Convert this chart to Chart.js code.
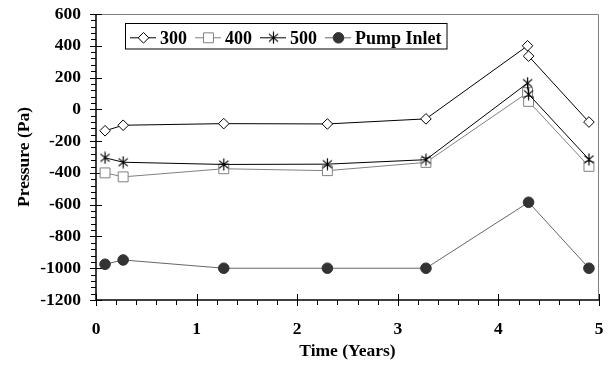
<!DOCTYPE html>
<html><head><meta charset="utf-8">
<script src="https://cdn.jsdelivr.net/npm/chart.js@4/dist/chart.umd.min.js"></script>
<style>html,body{margin:0;padding:0;background:#fff;} #wrap{width:611px;height:370px;position:relative}</style>
</head><body><div id="wrap"><canvas id="c" width="611" height="370"></canvas></div>
<script>
// ---- data ----
const seriesNames = ['300', '400', '500', 'Pump Inlet'];
const timeRuns = [0.09, 0.27, 1.27, 2.30, 3.28, 4.29, 4.30, 4.90];
const timePump = [0.09, 0.27, 1.27, 2.30, 3.28, 4.30, 4.90];
const p300 = [-135, -100, -90, -92, -60, 400, 335, -80];
const p400 = [-400, -425, -374, -386, -334, 105, 50, -359];
const p500 = [-305, -333, -347, -345, -317, 165, 95, -315];
const pPump = [-975, -948, -1000, -1000, -1000, -585, -1000];
const xTickLabels = ['0', '1', '2', '3', '4', '5'];
const yTickLabels = ['600', '400', '200', '0', '-200', '-400', '-600', '-800', '-1000', '-1200'];
const xTitle = 'Time (Years)';
const yTitle = 'Pressure (Pa)';

const FONT = "'Liberation Serif', 'Times New Roman', serif";

function makeAsterisk(size, color) {
  const c = document.createElement('canvas');
  c.width = size; c.height = size;
  const g = c.getContext('2d');
  g.strokeStyle = color; g.lineWidth = 1.2;
  const m = size / 2, r = size / 2 - 0.5;
  const dx = r * Math.cos(Math.PI * 40 / 180), dy = r * Math.sin(Math.PI * 40 / 180);
  g.beginPath();
  g.moveTo(m, m - r); g.lineTo(m, m + r);
  g.moveTo(m - dx, m - dy); g.lineTo(m + dx, m + dy);
  g.moveTo(m - dx, m + dy); g.lineTo(m + dx, m - dy);
  g.stroke();
  return c;
}
const asterisk = makeAsterisk(13, '#000');

const pts = (xs, ys) => xs.map((x, i) => ({x: x, y: ys[i]}));

const datasets = [
  {label: seriesNames[0], data: pts(timeRuns, p300), borderColor: '#000', backgroundColor: '#fff',
   pointStyle: 'rectRot', pointRadius: 5.3, pointBorderWidth: 1, borderWidth: 1, order: 1},
  {label: seriesNames[1], data: pts(timeRuns, p400), borderColor: '#808080', backgroundColor: '#fff',
   pointStyle: 'rect', pointRadius: 7, pointBorderWidth: 1, borderWidth: 1, order: 2},
  {label: seriesNames[2], data: pts(timeRuns, p500), borderColor: '#000', backgroundColor: '#000',
   pointStyle: asterisk, pointRadius: 6, pointBorderWidth: 1, borderWidth: 1, order: 0},
  {label: seriesNames[3], data: pts(timePump, pPump), borderColor: '#666', backgroundColor: '#333',
   pointBorderColor: '#333', pointStyle: 'circle', pointRadius: 5.3, pointBorderWidth: 1, borderWidth: 1, order: 3}
];

function drawMarker(ctx, ds, x, y) {
  const st = ds.pointStyle, r = ds.pointRadius;
  ctx.save();
  ctx.lineWidth = ds.pointBorderWidth || 1;
  ctx.strokeStyle = ds.pointBorderColor || ds.borderColor;
  ctx.fillStyle = ds.backgroundColor;
  if (typeof st === 'object') {
    ctx.drawImage(st, x - st.width / 2, y - st.height / 2);
  } else {
    ctx.beginPath();
    if (st === 'rectRot') {
      ctx.moveTo(x - r, y); ctx.lineTo(x, y - r); ctx.lineTo(x + r, y); ctx.lineTo(x, y + r); ctx.closePath();
    } else if (st === 'rect') {
      const s = r * Math.SQRT1_2;
      ctx.rect(x - s, y - s, 2 * s, 2 * s);
    } else {
      ctx.arc(x, y, r, 0, Math.PI * 2);
    }
    ctx.fill(); ctx.stroke();
  }
  ctx.restore();
}

const framePlugin = {
  id: 'frame',
  beforeDatasetsDraw(chart) {
    const {ctx, chartArea: a, scales: {x, y}} = chart;
    ctx.save();
    ctx.strokeStyle = '#808080'; ctx.lineWidth = 1;
    ctx.beginPath();
    ctx.moveTo(a.left, a.top + 0.5); ctx.lineTo(a.right - 0.5, a.top + 0.5); ctx.lineTo(a.right - 0.5, a.bottom);
    ctx.stroke();
    ctx.strokeStyle = '#000'; ctx.lineWidth = 1;
    const yv = y.ticks.map(t => t.value).sort((p, q) => p - q);
    for (let i = 0; i < yv.length; i++) {
      const py = Math.round(y.getPixelForValue(yv[i])) + 0.5;
      ctx.beginPath(); ctx.moveTo(a.left - 6, py); ctx.lineTo(a.left + 6, py); ctx.stroke();
      if (i < yv.length - 1) {
        const step = (yv[i + 1] - yv[i]) / 5;
        for (let k = 1; k < 5; k++) {
          const my = Math.round(y.getPixelForValue(yv[i] + k * step)) + 0.5;
          ctx.beginPath(); ctx.moveTo(a.left - 5, my); ctx.lineTo(a.left, my); ctx.stroke();
        }
      }
    }
    const xv = x.ticks.map(t => t.value).sort((p, q) => p - q);
    for (let i = 0; i < xv.length; i++) {
      const px = Math.round(x.getPixelForValue(xv[i])) + 0.5;
      ctx.beginPath(); ctx.moveTo(px, a.bottom - 6); ctx.lineTo(px, a.bottom + 6); ctx.stroke();
      if (i < xv.length - 1) {
        const step = (xv[i + 1] - xv[i]) / 5;
        for (let k = 1; k < 5; k++) {
          const mx = Math.round(x.getPixelForValue(xv[i] + k * step)) + 0.5;
          ctx.beginPath(); ctx.moveTo(mx, a.bottom); ctx.lineTo(mx, a.bottom + 5); ctx.stroke();
        }
      }
    }
    ctx.lineWidth = 1.5;
    ctx.beginPath();
    ctx.moveTo(a.left, a.top); ctx.lineTo(a.left, a.bottom); ctx.lineTo(a.right, a.bottom);
    ctx.stroke();
    ctx.restore();
  }
};

const legendPlugin = {
  id: 'legendBox',
  afterDraw(chart) {
    const {ctx, chartArea: a} = chart;
    const x0 = a.left + 29, y0 = 23, h = 25.5;
    const cy = y0 + 14.3;
    ctx.save();
    ctx.font = 'bold 18px ' + FONT;
    ctx.textBaseline = 'alphabetic';
    ctx.textAlign = 'left';
    let x = x0 + 5;
    chart.data.datasets.forEach(ds => {
      ctx.strokeStyle = ds.borderColor; ctx.lineWidth = 1;
      ctx.beginPath(); ctx.moveTo(x, cy + 0.5); ctx.lineTo(x + 26, cy + 0.5); ctx.stroke();
      drawMarker(ctx, ds, x + 13.5, cy + 0.5);
      ctx.fillStyle = '#000';
      ctx.fillText(ds.label, x + 30, y0 + 20.5);
      x += 30 + ctx.measureText(ds.label).width + 8;
    });
    const w = x - 8 + 5 - x0;
    ctx.strokeStyle = '#000'; ctx.lineWidth = 1;
    ctx.strokeRect(x0 + 0.5, y0 + 0.5, w, h);
    ctx.restore();
  }
};

new Chart(document.getElementById('c'), {
  type: 'line',
  data: {datasets: datasets},
  options: {
    responsive: false,
    animation: false,
    devicePixelRatio: 1,
    layout: {padding: {left: 0, right: 12, top: 14, bottom: 0}},
    elements: {line: {tension: 0}},
    plugins: {legend: {display: false}, tooltip: {enabled: false}},
    scales: {
      x: {
        type: 'linear', min: 0, max: 5,
        afterFit: s => { s.height = 70; s.paddingLeft = 0; s.paddingRight = 0; s.paddingTop = 0; s.paddingBottom = 0; },
        afterBuildTicks: s => { s.ticks = xTickLabels.map(v => ({value: Number(v)})); },
        grid: {display: false, drawTicks: false},
        border: {display: false},
        ticks: {padding: 19, color: '#000', font: {family: FONT, weight: 'bold', size: 17.5},
                callback: (v, i) => xTickLabels[i]},
        title: {display: true, text: xTitle, color: '#000', padding: {top: 0, bottom: 8},
                font: {family: FONT, weight: 'bold', size: 17.5}}
      },
      y: {
        type: 'linear', min: -1200, max: 600,
        afterFit: s => { s.width = 96; s.paddingLeft = 0; s.paddingRight = 0; s.paddingTop = 0; s.paddingBottom = 0; },
        afterBuildTicks: s => { s.ticks = yTickLabels.map(v => ({value: Number(v)})).reverse(); },
        grid: {display: false, drawTicks: false},
        border: {display: false},
        ticks: {padding: 15, color: '#000', font: {family: FONT, weight: 'bold', size: 17.5},
                callback: (v) => String(v)},
        title: {display: true, text: yTitle, color: '#000', padding: {top: 13.5, bottom: 0},
                font: {family: FONT, weight: 'bold', size: 17.5}}
      }
    }
  },
  plugins: [framePlugin, legendPlugin]
});
</script>
</body></html>
